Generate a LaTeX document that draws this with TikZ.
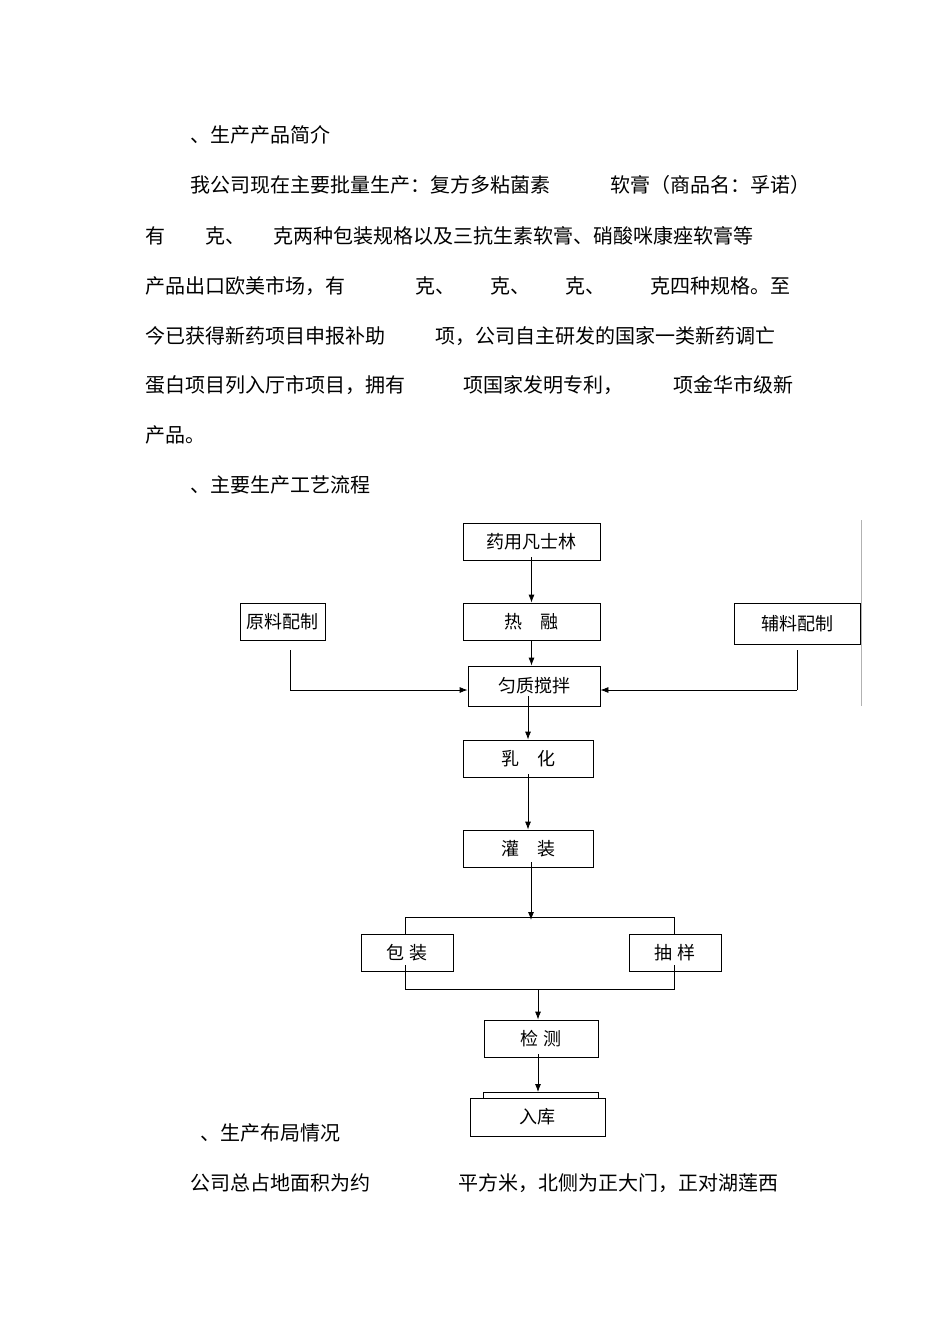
\documentclass[tikz,border=0pt]{standalone}
\usepackage{fontspec}
\setmainfont{Noto Sans CJK SC}
\usetikzlibrary{arrows.meta}
\begin{document}
\begin{tikzpicture}[x=1pt,y=-1pt,
  txt/.style={anchor=west,inner sep=0,font=\fontsize{20}{20}\selectfont},
  bx/.style={draw,thick,inner sep=0,font=\fontsize{18}{18}\selectfont},
  arr/.style={thick,-{Latex[length=8pt,width=6pt]}},
  ln/.style={thin}]
\useasboundingbox (0,0) rectangle (950,1344);
% body text
\node[txt] (t1) at (190,135) {、生产产品简介};
\node[txt] (t2a) at (190,185) {我公司现在主要批量生产：复方多粘菌素};
\node[txt] (t2b) at (610,185) {软膏（商品名：孚诺）};
\node[txt] (t3a) at (145,236) {有};
\node[txt] (t3b) at (205,236) {克、};
\node[txt] (t3c) at (273,236) {克两种包装规格以及三抗生素软膏、硝酸咪康痤软膏等};
\node[txt] (t4a) at (145,286) {产品出口欧美市场，有};
\node[txt] (t4b) at (415,286) {克、};
\node[txt] (t4c) at (490,286) {克、};
\node[txt] (t4d) at (565,286) {克、};
\node[txt] (t4e) at (650,286) {克四种规格。至};
\node[txt] (t5a) at (145,336) {今已获得新药项目申报补助};
\node[txt] (t5b) at (435,336) {项，公司自主研发的国家一类新药调亡};
\node[txt] (t6a) at (145,385) {蛋白项目列入厅市项目，拥有};
\node[txt] (t6b) at (463,385) {项国家发明专利，};
\node[txt] (t6c) at (673,385) {项金华市级新};
\node[txt] (t7) at (145,435) {产品。};
\node[txt] (t8) at (190,485) {、主要生产工艺流程};
\node[txt] (t9) at (200,1133) {、生产布局情况};
\node[txt] (t10a) at (190,1183) {公司总占地面积为约};
\node[txt] (t10b) at (458,1183) {平方米，北侧为正大门，正对湖莲西};
% flowchart
\node[bx,minimum width=137pt,minimum height=37pt] (vas) at (531.5,541.5) {药用凡士林};
\node[bx,minimum width=85pt,minimum height=37pt] (yl) at (282.5,621.5) {原料配制};
\node[bx,minimum width=137pt,minimum height=37pt] (rr) at (531.5,621.5) {热\quad 融};
\node[bx,minimum width=126pt,minimum height=41pt] (fl) at (797,623.5) {辅料配制};
\draw[ln,gray!60] (861,520) -- (861,706);
\node[bx,minimum width=132pt,minimum height=40pt] (jz) at (534,686) {匀质搅拌};
\node[bx,minimum width=130pt,minimum height=37pt] (rh) at (528,758.5) {乳\quad 化};
\node[bx,minimum width=130pt,minimum height=37pt] (gz) at (528,848.5) {灌\quad 装};
\node[bx,minimum width=92pt,minimum height=37pt] (bz) at (407,952.5) {包\ 装};
\node[bx,minimum width=92pt,minimum height=37pt] (cy) at (675,952.5) {抽\ 样};
\node[bx,minimum width=114pt,minimum height=37pt] (jc) at (541,1038.5) {检\ 测};
\draw[thick] (483,1100) -- (483,1092) -- (598,1092) -- (598,1100);
\node[bx,fill=white,minimum width=135pt,minimum height=38pt] (rk) at (537.5,1117) {入库};
% connectors
\draw[arr] ([yshift=3pt]vas.south) -- (rr.north);
\draw[arr] (rr.south) -- (jz.north -| rr.south);
\coordinate (ylb) at (290,650);
\coordinate (ylc) at (290,690);
\draw[ln] (ylb) -- (ylc);
\draw[arr] (ylc) -- (ylc -| jz.west);
\coordinate (flb) at (797,650);
\coordinate (flc) at (797,690);
\draw[ln] (flb) -- (flc);
\draw[arr] (flc) -- (flc -| jz.east);
\draw[arr] ([yshift=10pt]jz.south -| rh.north) -- (rh.north);
\draw[arr] ([yshift=3pt]rh.south) -- (gz.north);
\coordinate (bt) at (531,917);
\draw[arr] ([yshift=5pt]gz.south -| bt) -- ([yshift=-3pt]bt);
\coordinate (btl) at (405,917);
\coordinate (btr) at (674,917);
\draw[ln] (bz.north -| btl) -- (btl) -- (btr) -- (cy.north -| btr);
\coordinate (bbl) at (405,989);
\coordinate (bbr) at (674,989);
\coordinate (bbm) at (538,989);
\draw[ln] ([yshift=6pt]bz.south -| bbl) -- (bbl) -- (bbr) -- ([yshift=6pt]cy.south -| bbr);
\draw[arr] (bbm) -- (jc.north -| bbm);
\draw[arr] ([yshift=3pt]jc.south -| bbm) -- (538,1092);
\end{tikzpicture}
\end{document}
